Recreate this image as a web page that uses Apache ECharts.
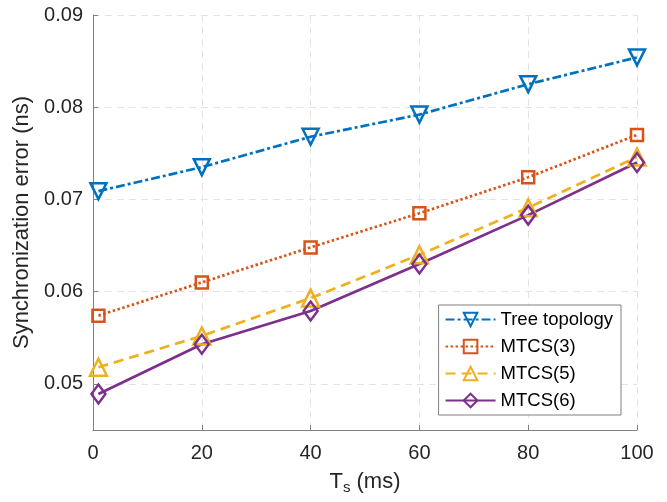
<!DOCTYPE html>
<html><head><meta charset="utf-8">
<script src="https://cdn.jsdelivr.net/npm/echarts@6/dist/echarts.min.js"></script>
<style>html,body{margin:0;padding:0;background:#fff}#c{width:667px;height:502px}</style>
</head><body><div id="c"></div>
<script>
const xValues = [1, 20, 40, 60, 80, 100];
const treeTopology = [0.0709, 0.0735, 0.0768, 0.0792, 0.0825, 0.0854];
const mtcs3 = [0.0574, 0.0610, 0.0648, 0.0685, 0.0724, 0.0770];
const mtcs5 = [0.0518, 0.0552, 0.0593, 0.0640, 0.0691, 0.0746];
const mtcs6 = [0.0489, 0.0543, 0.0579, 0.0630, 0.0683, 0.0740];
const seriesNames = ['Tree topology', 'MTCS(3)', 'MTCS(5)', 'MTCS(6)'];

const FONT = '"Liberation Sans", Arial, sans-serif';
function mk(name, data, color, dash, symbol, size, rotate) {
  return {
    name, type: 'line',
    data: xValues.map((x, i) => [x, data[i]]),
    symbol, symbolSize: size, symbolRotate: rotate || 0,
    showAllSymbol: true,
    lineStyle: { color, width: 2.7, type: dash },
    itemStyle: { color: 'rgba(255,255,255,0)', borderColor: color, borderWidth: 2.5 },
    emphasis: { disabled: true },
    z: 3
  };
}
const chart = echarts.init(document.getElementById('c'));
chart.setOption({
  animation: false,
  backgroundColor: '#fff',
  grid: { left: 93, right: 30, top: 15, bottom: 72, containLabel: false },
  xAxis: {
    type: 'value', min: 0, max: 100, interval: 20,
    name: 'T{sub|s} (ms)', nameLocation: 'middle', nameGap: 38,
    nameTextStyle: { fontFamily: FONT, fontSize: 22, color: '#262626',
      rich: { sub: { fontFamily: FONT, fontSize: 15, color: '#262626', verticalAlign: 'bottom', padding: [12, 0, 0, 0] } } },
    axisLine: { lineStyle: { color: '#808080', width: 1 } },
    axisTick: { inside: true, length: 5, lineStyle: { color: '#808080' } },
    axisLabel: { fontFamily: FONT, fontSize: 20, color: '#262626', margin: 13 },
    splitLine: { show: true, lineStyle: { color: '#e3e3e3', type: [7, 5], width: 1 } }
  },
  yAxis: {
    type: 'value', min: 0.045, max: 0.09, splitNumber: 5,
    name: 'Synchronization error (ns)', nameLocation: 'middle', nameGap: 56,
    nameTextStyle: { fontFamily: FONT, fontSize: 22, color: '#262626' },
    axisLine: { show: true, lineStyle: { color: '#808080', width: 1 } },
    axisTick: { show: true, inside: true, length: 5, lineStyle: { color: '#808080' } },
    axisLabel: { fontFamily: FONT, fontSize: 20, color: '#262626', margin: 10, showMinLabel: false,
      formatter: v => (Math.abs(v - 0.045) < 1e-9 ? '' : v.toFixed(2)) },
    splitLine: { show: true, lineStyle: { color: '#e3e3e3', type: [7, 5], width: 1 } }
  },
  legend: {
    data: seriesNames,
    orient: 'vertical', right: 46, top: 305,
    backgroundColor: '#fff', borderColor: '#808080', borderWidth: 1, borderRadius: 0,
    padding: [5, 8, 5, 6], itemGap: 8, itemWidth: 50, itemHeight: 17,
    textStyle: { fontFamily: FONT, fontSize: 18.5, color: '#000' }
  },
  series: [
    mk(seriesNames[0], treeTopology, '#0072BD', [9, 3, 3, 3], 'triangle', 16, 180),
    mk(seriesNames[1], mtcs3, '#D95319', [2.5, 2.5], 'rect', 12),
    mk(seriesNames[2], mtcs5, '#EDB120', [10, 6], 'triangle', 17),
    mk(seriesNames[3], mtcs6, '#7E2F8E', 'solid', 'diamond', [14, 19])
  ]
});
</script></body></html>
